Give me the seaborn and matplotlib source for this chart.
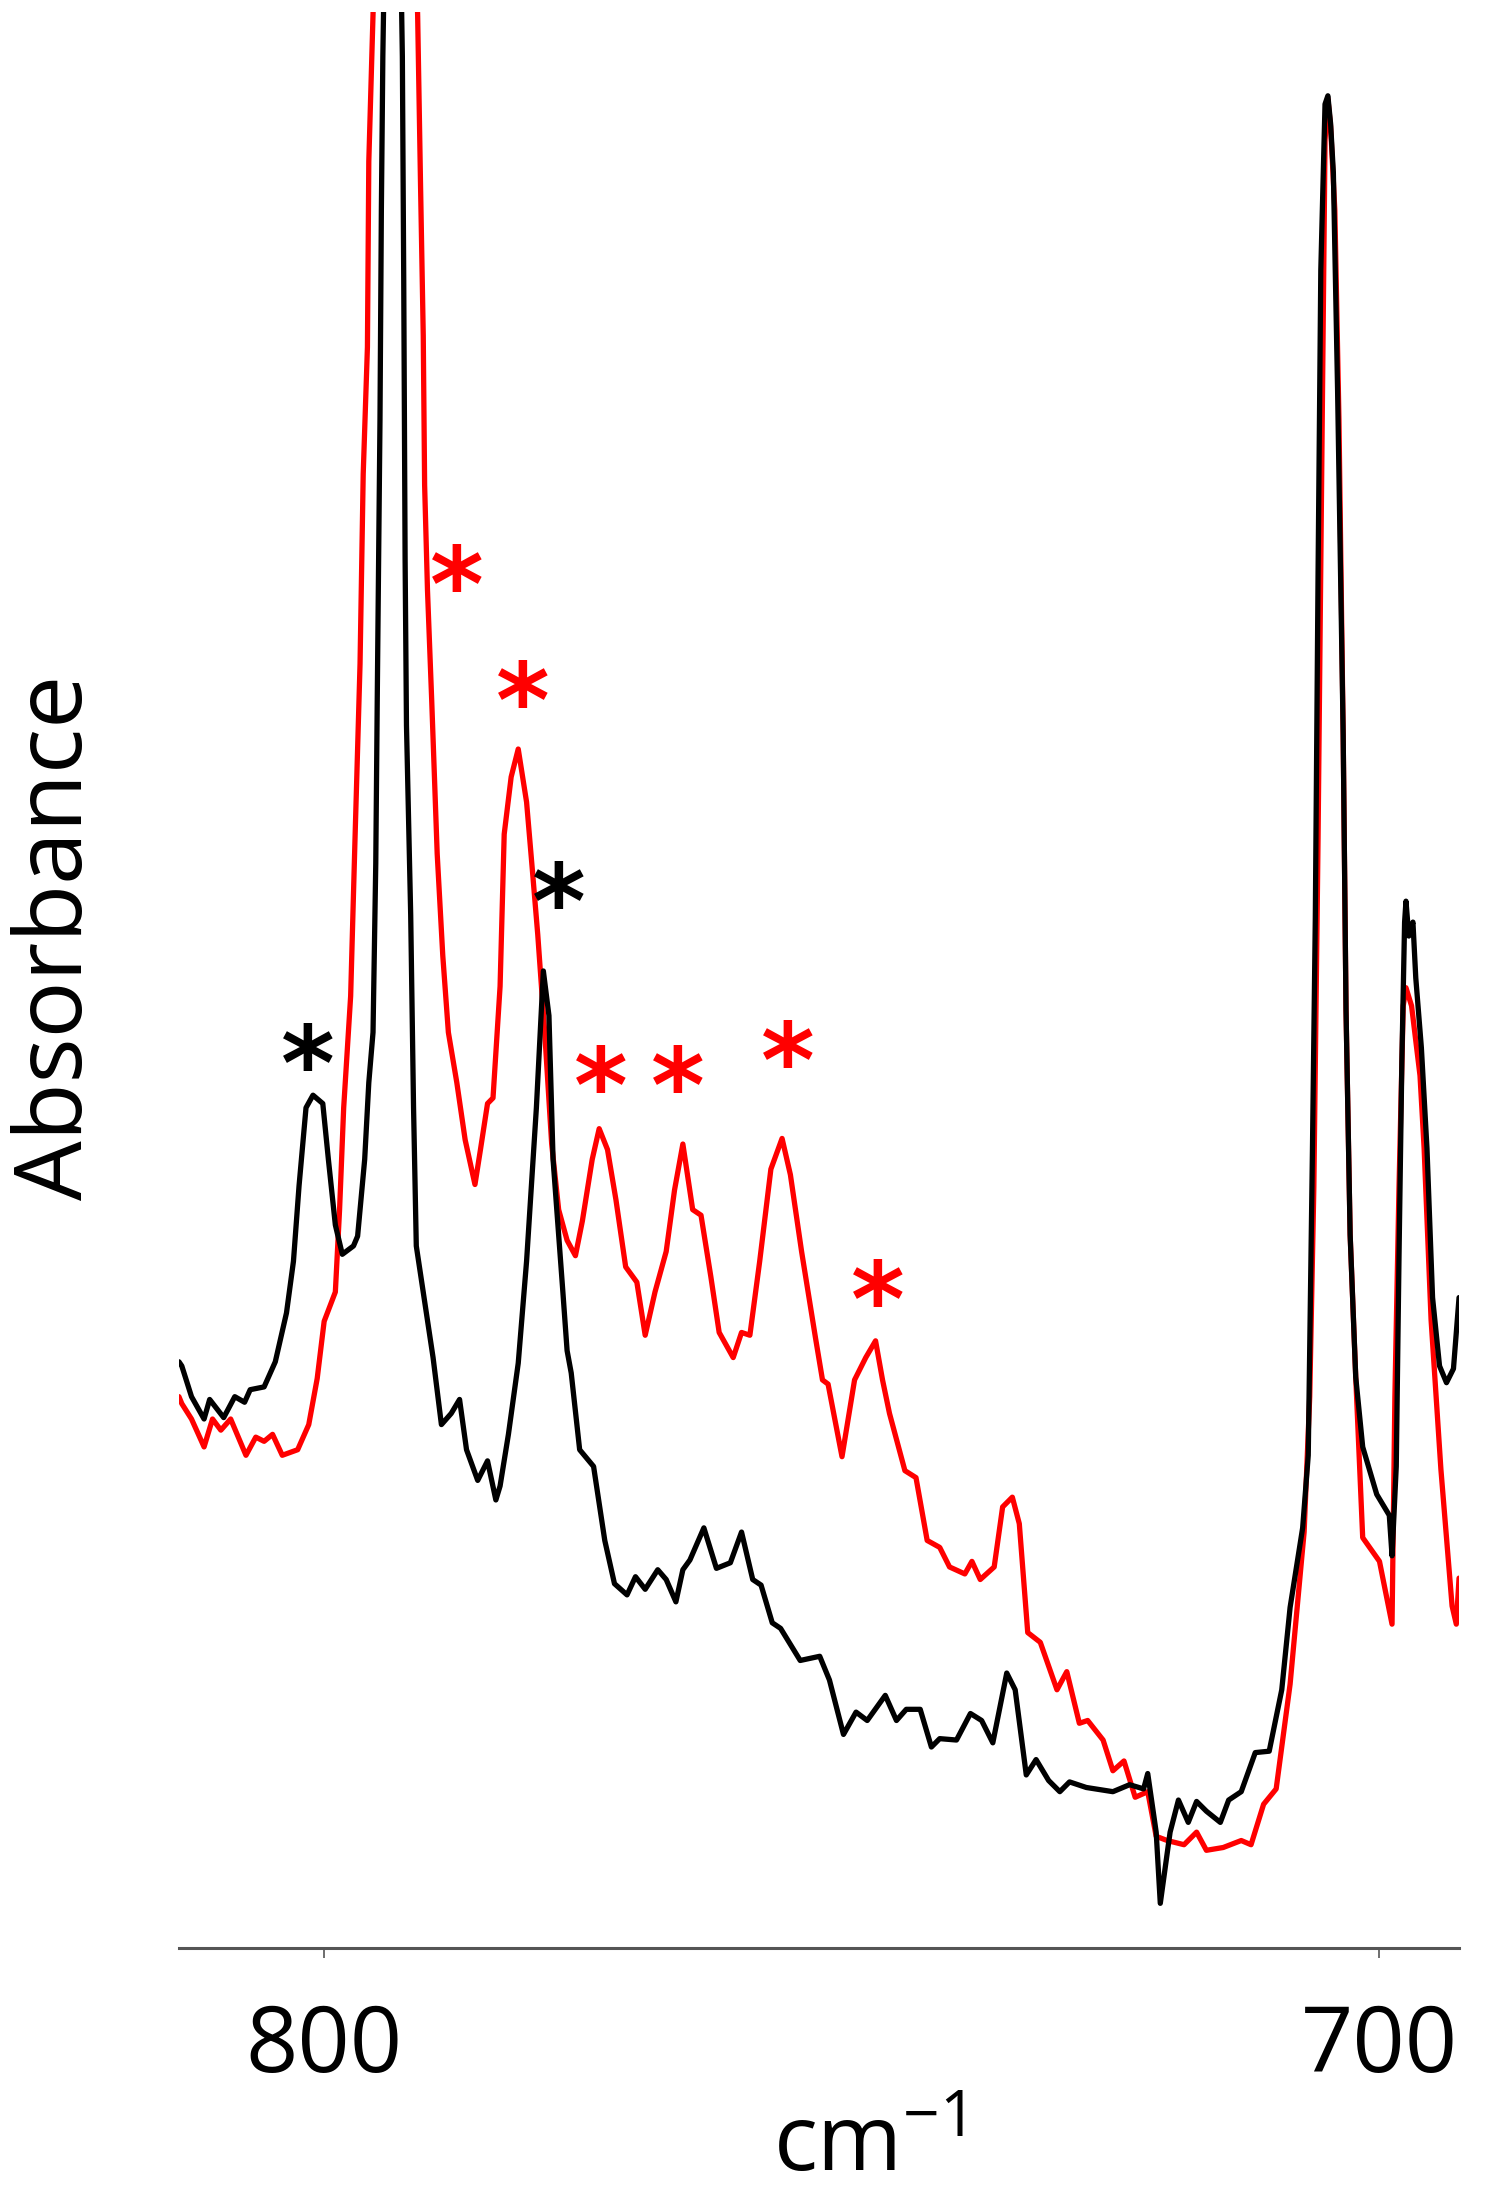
import matplotlib
matplotlib.use('Agg')
import matplotlib.pyplot as plt
import seaborn as sns
import pandas as pd

# Spectrum 1 (black trace): wavenumber (cm-1) and absorbance (a.u.)
wn_black = [813.76, 813.49, 812.57, 811.38, 810.85, 809.52, 808.47, 807.54, 807.01, 805.69,
            804.63, 803.57, 802.91, 802.38, 801.72, 801.06, 800.13, 799.60, 798.94, 798.28,
            797.22, 796.83, 796.16, 795.77, 795.37, 795.11, 794.97, 794.71, 794.58, 794.44,
            793.52, 792.59, 792.46, 792.33, 792.20, 791.80, 791.53, 791.27, 790.48, 789.68,
            788.89, 787.96, 787.17, 786.51, 785.45, 784.52, 783.73, 783.33, 782.54, 781.61,
            780.82, 779.89, 779.23, 778.70, 778.31, 777.38, 776.98, 776.59, 775.79, 774.47,
            773.41, 772.49, 771.30, 770.50, 769.58, 768.39, 767.59, 766.67, 766.01, 765.34,
            764.02, 762.83, 761.51, 760.45, 759.39, 758.60, 757.54, 756.75, 754.89, 753.04,
            752.12, 750.79, 749.60, 748.54, 746.83, 745.77, 744.84, 743.52, 742.46, 741.67,
            740.08, 738.76, 737.70, 736.64, 735.32, 734.52, 733.47, 732.54, 731.35, 730.29,
            729.37, 727.78, 725.26, 723.68, 722.35, 721.96, 721.16, 720.77, 719.84, 719.05,
            718.12, 717.33, 716.40, 715.08, 714.29, 713.10, 711.77, 710.45, 709.26, 708.47,
            707.28, 706.75, 706.35, 706.08, 705.82, 705.56, 705.16, 704.89, 704.63, 704.37,
            703.97, 703.44, 703.17, 702.78, 702.25, 701.59, 700.26, 699.07, 698.81, 698.41,
            698.15, 697.88, 697.62, 697.49, 697.22, 696.83, 696.56, 696.03, 695.50, 694.97,
            694.31, 693.65, 692.99, 692.46]
abs_black = [0.420, 0.417, 0.395, 0.379, 0.393, 0.380, 0.395, 0.391, 0.400, 0.402,
             0.420, 0.455, 0.492, 0.546, 0.602, 0.611, 0.605, 0.565, 0.518, 0.497,
             0.503, 0.510, 0.565, 0.620, 0.656, 0.777, 0.894, 1.095, 1.245, 1.355,
             1.800, 1.355, 1.195, 0.995, 0.876, 0.740, 0.602, 0.503, 0.463, 0.423,
             0.375, 0.383, 0.393, 0.357, 0.335, 0.349, 0.321, 0.331, 0.368, 0.419,
             0.492, 0.602, 0.700, 0.668, 0.565, 0.470, 0.428, 0.412, 0.357, 0.345,
             0.292, 0.261, 0.253, 0.266, 0.257, 0.271, 0.264, 0.248, 0.271, 0.278,
             0.301, 0.272, 0.276, 0.298, 0.264, 0.260, 0.233, 0.229, 0.206, 0.209,
             0.192, 0.153, 0.169, 0.163, 0.181, 0.163, 0.171, 0.171, 0.144, 0.150,
             0.149, 0.168, 0.163, 0.147, 0.197, 0.185, 0.124, 0.135, 0.120, 0.112,
             0.119, 0.115, 0.112, 0.117, 0.114, 0.125, 0.083, 0.032, 0.083, 0.106,
             0.090, 0.105, 0.098, 0.090, 0.106, 0.112, 0.140, 0.141, 0.185, 0.244,
             0.301, 0.353, 0.573, 0.738, 0.984, 1.202, 1.321, 1.327, 1.307, 1.272,
             1.116, 0.869, 0.672, 0.511, 0.409, 0.359, 0.325, 0.310, 0.281, 0.345,
             0.495, 0.635, 0.735, 0.750, 0.725, 0.735, 0.695, 0.645, 0.573, 0.466,
             0.417, 0.405, 0.415, 0.466]

# Spectrum 2 (red trace)
wn_red = [813.76, 813.49, 812.57, 811.38, 810.58, 809.79, 808.86, 807.41, 806.48, 805.69,
          804.89, 803.97, 802.51, 801.46, 800.66, 800.00, 798.94, 798.54, 798.15, 797.49,
          797.09, 796.60, 796.30, 795.90, 795.77, 795.37, 793.25, 791.14, 790.87, 790.61,
          790.48, 790.21, 789.81, 789.29, 788.76, 788.23, 787.43, 786.64, 785.71, 785.19,
          784.52, 784.00, 783.33, 782.94, 782.28, 781.61, 780.82, 780.29, 779.76, 779.10,
          778.44, 777.78, 776.98, 776.19, 775.53, 774.60, 773.94, 773.15, 772.35, 771.43,
          770.37, 769.58, 768.65, 767.59, 766.80, 766.01, 765.08, 764.29, 763.36, 762.57,
          761.24, 760.45, 759.66, 758.73, 757.67, 756.61, 755.82, 754.76, 753.44, 752.78,
          752.25, 750.93, 749.74, 748.68, 747.75, 747.09, 746.43, 744.97, 743.92, 742.86,
          741.67, 740.74, 739.29, 738.62, 737.83, 736.51, 735.71, 734.79, 734.13, 733.33,
          732.14, 730.56, 729.63, 728.44, 727.65, 726.19, 725.26, 724.21, 723.15, 721.96,
          721.16, 720.11, 718.52, 717.33, 716.40, 714.81, 713.10, 712.17, 710.98, 709.79,
          708.47, 707.14, 706.61, 706.22, 705.82, 705.42, 705.16, 704.89, 704.63, 704.23,
          703.84, 703.44, 703.17, 702.78, 702.25, 701.59, 700.00, 698.81, 698.54, 698.15,
          697.75, 697.49, 696.96, 696.16, 695.77, 695.11, 694.18, 693.12, 692.72, 692.46]
abs_red = [0.395, 0.390, 0.379, 0.359, 0.379, 0.371, 0.379, 0.353, 0.366, 0.363,
           0.368, 0.353, 0.357, 0.375, 0.408, 0.449, 0.470, 0.529, 0.602, 0.682,
           0.791, 0.920, 1.056, 1.147, 1.280, 1.384, 2.000, 1.384, 1.264, 1.155,
           1.048, 0.973, 0.894, 0.784, 0.711, 0.656, 0.620, 0.579, 0.547, 0.572,
           0.605, 0.609, 0.689, 0.798, 0.839, 0.859, 0.821, 0.774, 0.726, 0.656,
           0.576, 0.529, 0.507, 0.496, 0.521, 0.565, 0.587, 0.572, 0.536, 0.488,
           0.477, 0.439, 0.470, 0.499, 0.543, 0.576, 0.529, 0.525, 0.481, 0.441,
           0.423, 0.441, 0.439, 0.492, 0.558, 0.580, 0.554, 0.499, 0.437, 0.407,
           0.404, 0.352, 0.407, 0.423, 0.435, 0.407, 0.383, 0.342, 0.337, 0.292,
           0.287, 0.273, 0.268, 0.277, 0.264, 0.273, 0.316, 0.323, 0.304, 0.226,
           0.219, 0.185, 0.198, 0.161, 0.163, 0.149, 0.127, 0.134, 0.108, 0.112,
           0.080, 0.077, 0.074, 0.083, 0.070, 0.072, 0.077, 0.074, 0.103, 0.114,
           0.189, 0.298, 0.395, 0.545, 0.795, 1.095, 1.295, 1.325, 1.305, 1.245,
           1.095, 0.869, 0.672, 0.511, 0.409, 0.294, 0.277, 0.232, 0.395, 0.545,
           0.675, 0.688, 0.675, 0.625, 0.573, 0.450, 0.343, 0.245, 0.232, 0.265]

# asterisk annotations (wavenumber, absorbance of the mark)
star_red_wn = [787.43, 781.22, 773.81, 766.53, 756.08, 747.49]
star_red_abs = [0.988, 0.905, 0.629, 0.629, 0.647, 0.476]
star_black_wn = [801.59, 777.78]
star_black_abs = [0.645, 0.761]

df_black = pd.DataFrame({'wn': wn_black, 'A': abs_black})
df_red = pd.DataFrame({'wn': wn_red, 'A': abs_red})

sns.set_style('white')
plt.rcParams['font.family'] = ['Open Sans', 'DejaVu Sans']
plt.rcParams['text.color'] = 'black'
plt.rcParams['mathtext.fontset'] = 'custom'
plt.rcParams['mathtext.rm'] = 'Open Sans'
plt.rcParams['mathtext.default'] = 'regular'

fig = plt.figure(figsize=(15, 21.9), dpi=100)
ax = fig.add_axes([0.1193, 0.1105, 0.8534, 0.884])

sns.lineplot(data=df_red, x='wn', y='A', color='#ff0000', lw=3.8,
             estimator=None, sort=False, ax=ax)
sns.lineplot(data=df_black, x='wn', y='A', color='black', lw=3.8,
             estimator=None, sort=False, ax=ax)

# the '*' glyph sits high in its box, so nudge it down onto the mark position
for xs, ys, c in [(star_red_wn, star_red_abs, '#ff0000'),
                  (star_black_wn, star_black_abs, 'black')]:
    for x, y in zip(xs, ys):
        ax.annotate('*', xy=(x, y), xytext=(0, -17), textcoords='offset points',
                    color=c, fontsize=74, fontweight='bold', ha='center', va='center',
                    family='DejaVu Sans')

ax.set_xlim(813.76, 692.46)
ax.set_ylim(0, 1.387)
ax.set_xticks([800, 700])
ax.set_yticks([])
ax.tick_params(axis='x', direction='out', length=7, width=1.2, color='#555555',
               labelsize=66, labelcolor='black', pad=32, bottom=True)
for side in ['left', 'top', 'right']:
    ax.spines[side].set_visible(False)
ax.spines['bottom'].set_color('#555555')
ax.spines['bottom'].set_linewidth(2.2)
ax.set_xlabel('')
ax.set_ylabel('')

fig.text(58 / 1500, 1 - 937 / 2190, 'Absorbance', rotation=90, ha='center', va='center',
         fontsize=68, color='black')
fig.text(868 / 1500, 1 - 2170 / 2190, 'cm$^{-1}$', ha='center', va='baseline',
         fontsize=66, color='black')

fig.savefig('out.png', dpi=100)
